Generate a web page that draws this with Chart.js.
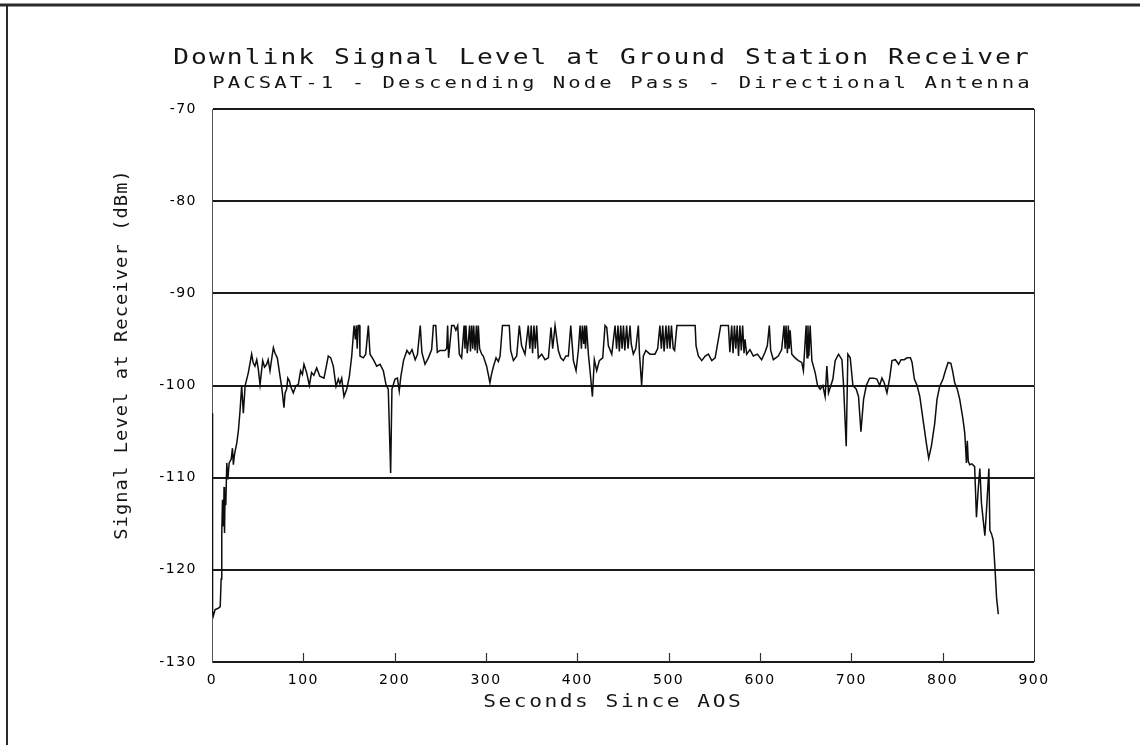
<!DOCTYPE html>
<html>
<head>
<meta charset="utf-8">
<script src="https://cdn.jsdelivr.net/npm/chart.js@4.4.1/dist/chart.umd.min.js"></script>
<style>
html,body{margin:0;padding:0;background:#fff;}
canvas{display:block;}
</style>
</head>
<body>
<canvas id="c" width="1140" height="748"></canvas>
<script>
const titleText = "Downlink Signal Level at Ground Station Receiver";
const subtitleText = "PACSAT-1 - Descending Node Pass - Directional Antenna";
const xTitle = "Seconds Since AOS";
const yTitle = "Signal Level at Receiver (dBm)";
const xTicks = [0,100,200,300,400,500,600,700,800,900];
const yTicks = [-130,-120,-110,-100,-90,-80,-70];

const seconds = [
0,0.6,1.5,3.4,6.4,9,10,10.7,11.5,12.6,13.2,13.7,14.3,15.1,16.2,17.3,18.8,21,22.4,23.4,24.6,27.2,29,30.8,32.5,34.3,36.3,39.8,43.4,45,47,49,50.8,52.6,55.5,57.5,59.9,61.5,63.5,65.5,67.2,69,71.5,74.5,76.5,78.8,80,81.7,83,84.7,86.5,89,92,94.5,97,99,100.7,103.6,106.6,109,111.5,114.6,118,122.6,125,127.3,130,132.8,135.8,138.3,140,142,144.5,147.5,150.4,153,155.5,157,158,159,160,161.5,162,165.7,168.3,171.2,173,176.7,180.3,184,187.6,190.5,193,195.6,197,200.4,203,205,206.8,209.7,213.4,216.3,219,222.5,225,228,229.8,233.2,236.9,240.5,242.4,245,246.7,249.6,255,257,258,259,262.4,265,267,269,270.8,273.3,276,277,278,279.5,280.7,282,283,284.3,285.5,286.5,288,289.5,290.5,291.6,293,295.3,297,300.7,304.3,306,308,311,313.5,315.4,318,325.5,327,330,333.6,336.5,339,342.7,346.3,348,349.5,351,352.5,354,355.5,357.3,361,364.6,368.3,371.2,373,375.6,379.2,381.8,384.7,387.5,390.2,392.8,395.7,398.6,401.1,403,404.5,405.5,407,408,409,410,412.1,413.9,416.5,418.6,421.2,424.1,427.8,430.3,432.2,434,437.7,441.3,443,444.5,446,447.5,449,450.5,452,454,455.5,457.7,459,461.3,464,466.8,468,470.4,472.3,475,479.5,485,488,490.4,492,493.5,495,497,498.5,500,501.5,503,505,506.5,509,529,530,532.5,536.2,540,543.5,547.2,550.9,554.6,557,565.4,567,569,570.5,572,573.5,575,576.5,578,579.5,581,582.5,583.6,585.4,589,592.7,597.1,601.8,605.5,608,610.2,611.7,614.6,620,623.7,626.3,627.5,628.5,630,631,632,633,634.8,638.4,642,645.7,647.5,650.5,651.5,652.5,653.5,654.9,656.8,660.4,663,665.9,668.8,671.3,673.2,675,677.6,679.8,682.3,686,689.7,691.5,694.4,696.2,698.8,701.7,705.4,707.9,710.5,713.4,716.4,720,724.4,728,731,733.5,736,739,742,744.5,748.2,751.8,754.4,758,761,764.7,766.5,769,772,775,778.5,782.2,784.7,787.6,791.3,793.8,796.7,800.4,803,806,809,811,813.2,816,818.7,822.3,824.2,825,826,827,828,829.6,832,835,837,838.9,840.7,842.5,844.4,846.2,848,850.6,851.7,853.5,855.4,857.2,859,860.9
];
const levelDbm = [
-103,-124.5,-125,-124.3,-124.2,-124,-121,-116,-112.4,-115.3,-111,-116,-111.7,-113,-108.4,-110.2,-108.4,-108,-106.8,-108.6,-107.5,-106.2,-104.8,-102.6,-100,-103,-100,-98.6,-96.6,-97.5,-97.9,-97.2,-98.3,-99.9,-97.3,-98,-97.7,-97.2,-98.4,-97,-95.9,-96.5,-97,-99,-100.3,-102.4,-100.8,-100.4,-99.2,-99.5,-100.2,-100.8,-100,-99.9,-98.4,-98.8,-97.7,-98.6,-100,-98.6,-98.9,-98.1,-99,-99.2,-98,-96.8,-97,-97.9,-100.1,-99.3,-99.8,-99.2,-101.2,-100.4,-99,-96.8,-93.5,-95,-93.5,-96,-93.5,-93.5,-96.8,-97,-96.6,-93.5,-96.6,-97.2,-97.9,-97.7,-98.4,-99.9,-100.4,-109.5,-100.4,-99.3,-99.2,-100.6,-99,-97.3,-96.2,-96.6,-96.1,-97.2,-96.6,-93.5,-96.4,-97.7,-97,-96.1,-93.5,-93.5,-96.4,-96.2,-96.2,-96,-93.5,-97,-93.5,-93.5,-94,-93.5,-96.6,-97,-93.5,-96,-93.5,-96.5,-95.2,-93.5,-96.3,-93.5,-96,-93.5,-96.2,-93.5,-96.5,-93.5,-96,-96.6,-96.8,-97.9,-99.7,-98.8,-98,-97,-97.4,-96.8,-93.5,-93.5,-96.2,-97.3,-96.8,-93.5,-95.7,-96.6,-93.5,-96,-93.5,-96.5,-93.5,-96,-93.5,-97,-96.6,-97.2,-97,-93.7,-96,-93.5,-96.2,-97,-97.3,-96.8,-96.8,-93.5,-97.3,-98.4,-96.2,-93.5,-96,-93.5,-95.5,-93.5,-96,-93.5,-96.6,-98.4,-101.2,-97.2,-98.4,-97.3,-97,-93.5,-93.7,-95.7,-96.6,-93.5,-96,-93.5,-96.3,-93.5,-96,-93.5,-96.2,-93.5,-96,-93.5,-95.5,-96.6,-96,-93.5,-96.5,-100,-96.8,-96.2,-96.6,-96.6,-96,-93.5,-96,-93.5,-96.3,-93.5,-96,-93.5,-96,-93.5,-96,-96.2,-93.5,-93.5,-95.7,-96.8,-97.3,-96.8,-96.6,-97.3,-97,-94.9,-93.5,-93.5,-96.4,-93.5,-96.5,-93.5,-96,-93.5,-96.8,-93.5,-96.2,-93.5,-96.5,-95,-96.6,-96.1,-96.8,-96.6,-97.2,-96.4,-95.7,-93.5,-96.2,-97.2,-96.8,-96.1,-93.5,-96,-93.5,-96.5,-93.5,-96,-94,-96.6,-97,-97.3,-97.5,-98.4,-93.5,-97,-93.5,-96.8,-93.5,-97.3,-98.6,-100,-100.4,-100,-101.2,-97.9,-100.8,-100,-99.3,-97.3,-96.6,-97.2,-100,-106.6,-96.6,-97,-100,-100.4,-101.2,-105,-101.5,-100,-99.2,-99.2,-99.3,-100,-99.2,-99.7,-100.8,-99.2,-97.3,-97.2,-97.7,-97.2,-97.2,-97,-97,-97.5,-99.3,-100,-101.2,-103.7,-106.3,-107.9,-106.6,-104.1,-101.5,-100.1,-99.3,-98.4,-97.5,-97.6,-98.5,-99.7,-100.4,-101.5,-103.7,-105.2,-106.5,-108.4,-106,-108.2,-108.6,-108.5,-108.8,-114.3,-111.3,-109,-112.8,-114.6,-116.3,-113.5,-109,-115.7,-116.1,-116.8,-119.7,-123,-124.8
];

const points = seconds.map((t, i) => ({x: t, y: levelDbm[i]}));

function wideText(ctx, text, x, y, size, spacing, sx, rot) {
  ctx.save();
  ctx.translate(x, y);
  if (rot) ctx.rotate(rot);
  ctx.scale(sx, 1);
  ctx.letterSpacing = spacing + 'px';
  ctx.font = size + 'px "DejaVu Sans Mono"';
  ctx.textAlign = 'center';
  ctx.fillText(text, spacing / 2, 0);
  ctx.restore();
}

const decor = {
  id: 'decor',
  beforeDraw(chart) {
    const ctx = chart.ctx;
    ctx.save();
    ctx.fillStyle = '#fff';
    ctx.fillRect(0, 0, chart.width, chart.height);
    ctx.strokeStyle = '#2a2a2a';
    ctx.lineWidth = 3;
    ctx.beginPath(); ctx.moveTo(0, 5); ctx.lineTo(1140, 5); ctx.stroke();
    ctx.lineWidth = 2;
    ctx.beginPath(); ctx.moveTo(7, 5); ctx.lineTo(7, 745); ctx.stroke();
    ctx.restore();
    ctx.letterSpacing = '1.5px';
  },
  afterDraw(chart) {
    const ctx = chart.ctx;
    const a = chart.chartArea;
    const xs = chart.scales.x;
    ctx.save();
    ctx.strokeStyle = '#333';
    ctx.lineWidth = 1;
    ctx.beginPath(); ctx.moveTo(a.right + 0.5, a.top); ctx.lineTo(a.right + 0.5, a.bottom); ctx.stroke();
    ctx.lineWidth = 1.2;
    xTicks.forEach(v => {
      if (v === 0 || v === 900) return;
      const px = Math.round(xs.getPixelForValue(v)) + 0.5;
      ctx.beginPath(); ctx.moveTo(px, a.bottom); ctx.lineTo(px, a.bottom - 9); ctx.stroke();
    });
    ctx.fillStyle = '#151515';
    ctx.textBaseline = 'alphabetic';
    wideText(ctx, titleText, 601, 64, 21, 1.65, 1.25);
    wideText(ctx, subtitleText, 621, 88, 16.5, 2.45, 1.25);
    ctx.textBaseline = 'middle';
    wideText(ctx, xTitle, 612, 703, 17, 2.0, 1.25);
    wideText(ctx, yTitle, 123, 355, 17, 1.0, 1.1, -Math.PI / 2);
    ctx.restore();
  }
};

new Chart(document.getElementById('c'), {
  type: 'line',
  data: {
    datasets: [{
      data: points,
      borderColor: '#0d0d0d',
      borderWidth: 1.5,
      pointRadius: 0,
      tension: 0,
      fill: false
    }]
  },
  options: {
    responsive: false,
    animation: false,
    events: [],
    layout: {padding: {left: 0, right: 106, top: 109, bottom: 0}},
    plugins: {legend: {display: false}, title: {display: false}, tooltip: {enabled: false}},
    scales: {
      x: {
        type: 'linear', min: 0, max: 900,
        afterBuildTicks: s => { s.ticks = xTicks.map(v => ({value: v})); },
        afterFit: s => { s.height = 86; },
        grid: {display: false, drawTicks: false},
        border: {display: false},
        ticks: {color: '#000', padding: 10, font: {family: 'DejaVu Sans', size: 14}, maxRotation: 0}
      },
      y: {
        type: 'linear', min: -130, max: -70,
        afterBuildTicks: s => { s.ticks = yTicks.map(v => ({value: v})); },
        afterFit: s => { s.width = 212; },
        grid: {color: '#1a1a1a', lineWidth: 2, drawTicks: false},
        border: {display: true, color: '#555', width: 1},
        ticks: {color: '#000', padding: 15, font: {family: 'DejaVu Sans', size: 14}}
      }
    }
  },
  plugins: [decor]
});
</script>
</body>
</html>
